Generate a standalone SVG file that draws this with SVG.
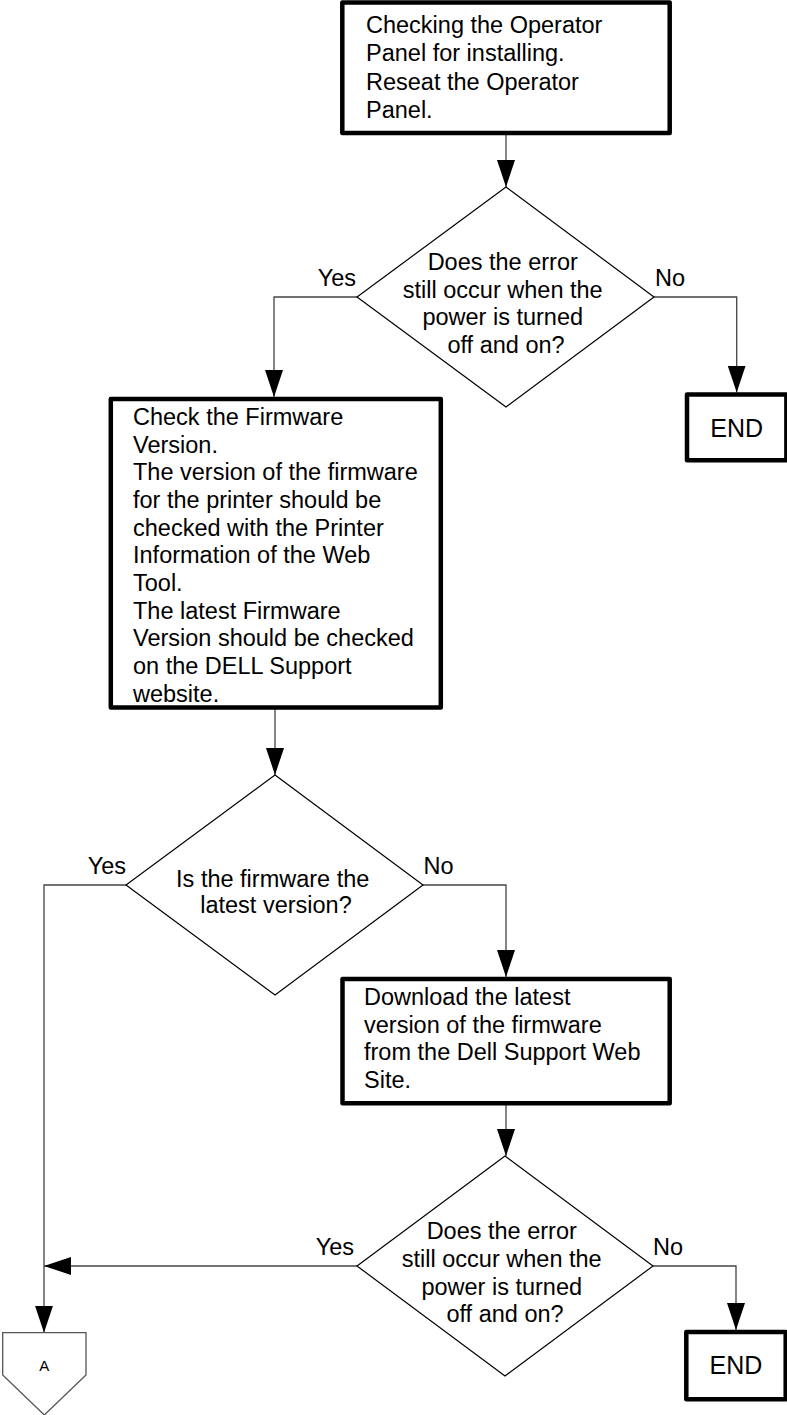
<svg xmlns="http://www.w3.org/2000/svg" width="787" height="1415" viewBox="0 0 787 1415">
  <style>
    .box { fill: #fff; stroke: #000; stroke-width: 4.5; stroke-linejoin: round; }
    .dec { fill: #fff; stroke: #000; stroke-width: 1.2; }
    .off { fill: #fff; stroke: #555; stroke-width: 1.3; }
    .wire { fill: none; stroke: #444; stroke-width: 1.3; }
    text { font-family: "Liberation Sans", Arial, sans-serif; font-size: 23.5px; fill: #000; }
    .mid { text-anchor: middle; }
    .end { text-anchor: end; }
    .term { font-size: 25px; }
    .tag { font-size: 15px; }
  </style>
  <defs>
    <marker id="arrow" viewBox="0 0 27 18" refX="27" refY="9" markerWidth="27" markerHeight="18" markerUnits="userSpaceOnUse" orient="auto">
      <path d="M0,0 L27,9 L0,18 Z" fill="#000"/>
    </marker>
  </defs>

  <!-- connectors -->
  <g id="connectors">
    <path class="wire" d="M506,133 V187" marker-end="url(#arrow)"/>
    <path class="wire" d="M357,297 H274 V397" marker-end="url(#arrow)"/>
    <path class="wire" d="M654,297 H736.7 V392.5" marker-end="url(#arrow)"/>
    <path class="wire" d="M275,707.5 V775" marker-end="url(#arrow)"/>
    <path class="wire" d="M126,885 H44 V1332.7" marker-end="url(#arrow)"/>
    <path class="wire" d="M423,885 H506 V977" marker-end="url(#arrow)"/>
    <path class="wire" d="M506,1103.3 V1156" marker-end="url(#arrow)"/>
    <path class="wire" d="M357,1266 H44" marker-end="url(#arrow)"/>
    <path class="wire" d="M653,1266 H736 V1330" marker-end="url(#arrow)"/>
  </g>

  <!-- branch labels -->
  <g id="labels">
    <text class="end" x="356" y="286">Yes</text>
    <text x="655" y="286">No</text>
    <text class="end" x="126" y="874">Yes</text>
    <text x="423.5" y="874">No</text>
    <text class="end" x="354" y="1255">Yes</text>
    <text x="653" y="1255">No</text>
  </g>

  <g id="reseat">
    <rect class="box" x="342.3" y="2.5" width="327.4" height="130.5"/>
    <text x="366" y="33">
      <tspan x="366">Checking the Operator</tspan>
      <tspan x="366" dy="28.3">Panel for installing.</tspan>
      <tspan x="366" dy="28.3">Reseat the Operator</tspan>
      <tspan x="366" dy="28.3">Panel.</tspan>
    </text>
  </g>

  <g id="check1">
    <polygon class="dec" points="506,187 654,297 506,407 357,297"/>
    <text class="mid" x="506" y="270">
      <tspan x="506">Does the error</tspan>
      <tspan x="506" dy="27.7">still occur when the</tspan>
      <tspan x="506" dy="27.7">power is turned</tspan>
      <tspan x="506" dy="27.7">off and on?</tspan>
    </text>
  </g>

  <g id="end1">
    <rect class="box" x="687" y="394.5" width="99.4" height="65.8"/>
    <text class="mid term" x="736.7" y="436.7">END</text>
  </g>

  <g id="firmware">
    <rect class="box" x="110.8" y="399" width="330" height="308.5"/>
    <text x="133" y="425">
      <tspan x="133">Check the Firmware</tspan>
      <tspan x="133" dy="27.67">Version.</tspan>
      <tspan x="133" dy="27.67">The version of the firmware</tspan>
      <tspan x="133" dy="27.67">for the printer should be</tspan>
      <tspan x="133" dy="27.67">checked with the Printer</tspan>
      <tspan x="133" dy="27.67">Information of the Web</tspan>
      <tspan x="133" dy="27.67">Tool.</tspan>
      <tspan x="133" dy="27.67">The latest Firmware</tspan>
      <tspan x="133" dy="27.67">Version should be checked</tspan>
      <tspan x="133" dy="27.67">on the DELL Support</tspan>
      <tspan x="133" dy="27.67">website.</tspan>
    </text>
  </g>

  <g id="check2">
    <polygon class="dec" points="275,775 423,885 275,995 126,885"/>
    <text class="mid" x="276" y="886.7">
      <tspan x="276">Is the firmware the</tspan>
      <tspan x="276" dy="26.6">latest version?</tspan>
    </text>
  </g>

  <g id="download">
    <rect class="box" x="342.5" y="979" width="327.2" height="124.3"/>
    <text x="364" y="1005">
      <tspan x="364">Download the latest</tspan>
      <tspan x="364" dy="27.7">version of the firmware</tspan>
      <tspan x="364" dy="27.7">from the Dell Support Web</tspan>
      <tspan x="364" dy="27.7">Site.</tspan>
    </text>
  </g>

  <g id="check3">
    <polygon class="dec" points="505,1156 653,1266 505,1376 357,1266"/>
    <text class="mid" x="505" y="1239">
      <tspan x="505">Does the error</tspan>
      <tspan x="505" dy="27.8">still occur when the</tspan>
      <tspan x="505" dy="27.8">power is turned</tspan>
      <tspan x="505" dy="27.8">off and on?</tspan>
    </text>
  </g>

  <g id="end2">
    <rect class="box" x="686.3" y="1332" width="99.4" height="67.2"/>
    <text class="mid term" x="736" y="1374">END</text>
  </g>

  <g id="offpage-a">
    <polygon class="off" points="2.7,1332.7 86,1332.7 86,1375 44.3,1415 2.7,1375"/>
    <text class="mid tag" x="44.3" y="1370.5">A</text>
  </g>
</svg>
